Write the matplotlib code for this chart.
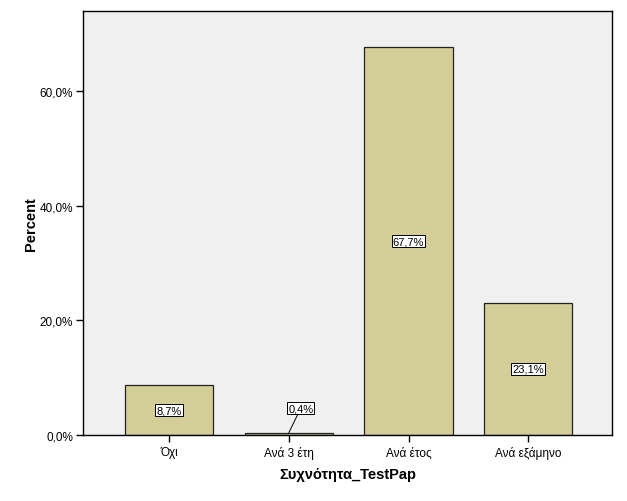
import matplotlib
matplotlib.use("Agg")
import matplotlib.pyplot as plt
from matplotlib.ticker import FuncFormatter

plt.rcParams['font.family'] = ['Liberation Sans', 'DejaVu Sans']

categories = ["Όχι", "Ανά 3 έτη", "Ανά έτος", "Ανά εξάμηνο"]
percents = [8.7, 0.4, 67.7, 23.1]
labels = ["8,7%", "0,4%", "67,7%", "23,1%"]

fig = plt.figure(figsize=(6.27, 5.02), dpi=100)
ax = fig.add_axes([0.1324, 0.1315, 0.8436, 0.8445])
ax.set_facecolor("#F0F0F0")

x = list(range(len(categories)))
ax.bar(x, percents, width=0.74, color="#D3CE97", edgecolor="#222222", linewidth=0.9, zorder=2)

box = dict(boxstyle="square,pad=0.1", fc="white", ec="black", lw=0.7)
for i, (v, lab) in enumerate(zip(percents, labels)):
    if v < 2:
        # small bar: label above with leader line
        ax.annotate(lab, xy=(i, v), xytext=(i + 0.1, 4.7), ha="center", va="center",
                    fontsize=8, bbox=box, zorder=4,
                    arrowprops=dict(arrowstyle="-", color="black", lw=0.7,
                                    shrinkA=0, shrinkB=0))
    else:
        ax.text(i, v / 2, lab, ha="center", va="center", fontsize=8, bbox=box, zorder=4)

ax.set_xlim(-0.72, 3.7)
ax.set_ylim(0, 74)
ax.set_yticks([0, 20, 40, 60])
ax.yaxis.set_major_formatter(FuncFormatter(lambda v, p: f"{v:.1f}%".replace(".", ",")))
ax.set_xticks(x)
ax.set_xticklabels(categories)
ax.tick_params(axis="both", direction="out", length=5, width=1, labelsize=8.5, colors="black")
ax.tick_params(axis="x", length=5, pad=3)
ax.tick_params(axis="y", pad=2)

for s in ax.spines.values():
    s.set_linewidth(1)
    s.set_color("black")

ax.set_ylabel("Percent", fontsize=10.5, fontweight="bold", labelpad=1)
ax.set_xlabel("Συχνότητα_TestPap", fontsize=10.5, fontweight="bold", labelpad=6)

fig.savefig("out.png", dpi=100)
